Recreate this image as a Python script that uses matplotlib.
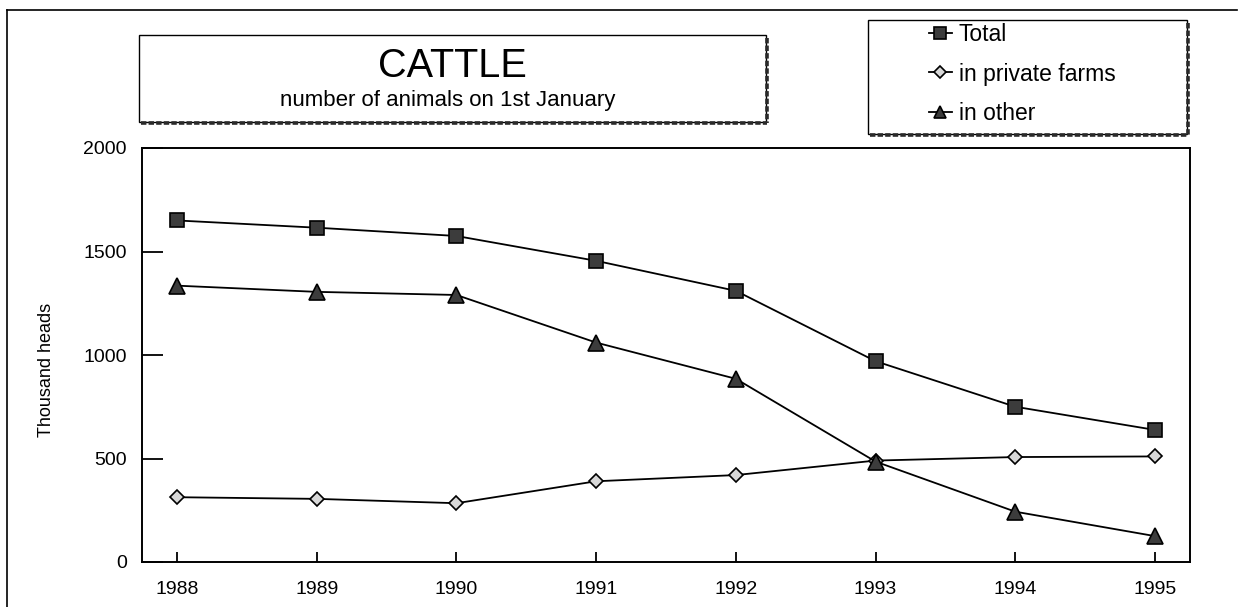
import matplotlib
matplotlib.use("Agg")
import matplotlib.pyplot as plt
from matplotlib.patches import Rectangle
from matplotlib.lines import Line2D

# ---- data ----
years = [1988, 1989, 1990, 1991, 1992, 1993, 1994, 1995]
total = [1650, 1615, 1575, 1455, 1310, 970, 750, 638]
private_farms = [313, 305, 284, 390, 420, 490, 507, 510]
other = [1335, 1305, 1290, 1060, 885, 485, 243, 125]
series_names = ["Total", "in private farms", "in other"]
yticks = [0, 500, 1000, 1500, 2000]
title = "CATTLE"
subtitle = "number of animals on 1st January"
ylabel = "Thousand heads"

W, H = 1258, 607
DPI = 100
plt.rcParams['font.family'] = ['Liberation Sans', 'DejaVu Sans']

fig = plt.figure(figsize=(W / DPI, H / DPI), dpi=DPI)
fig.patch.set_facecolor('white')


def fx(x):
    return x / W


def fy(y):
    return 1 - y / H


# axes: pixel box 142..1190 x, 148..562 y
ax = fig.add_axes([fx(142), fy(562), fx(1190) - fx(142), fy(148) - fy(562)])

styles = [
    dict(marker='s', markersize=10, markerfacecolor='#3c3c3c', markeredgecolor='black'),
    dict(marker='D', markersize=7.5, markerfacecolor='#d8d8d8', markeredgecolor='black'),
    dict(marker='^', markersize=11, markerfacecolor='#3c3c3c', markeredgecolor='black'),
]
lines = []
for vals, name, st in zip([total, private_farms, other], series_names, styles):
    ln, = ax.plot(years, vals, color='black', lw=1.3, label=name,
                  markeredgewidth=1.2, **st)
    lines.append(ln)

ax.set_xlim(1987.75, 1995.25)
ax.set_ylim(0, 2000)
ax.set_xticks(years)
ax.set_yticks(yticks)
ax.tick_params(axis='y', direction='in', length=15, width=1.3, pad=11, labelsize=14)
ax.tick_params(axis='x', direction='in', length=7, width=1.3, pad=14, labelsize=14)
for sp in ax.spines.values():
    sp.set_linewidth(1.4)
ax.set_ylabel(ylabel, fontsize=13)
ax.yaxis.set_label_coords((55 - 142) / 1048, (562 - 370) / 414)


def shadow_box(x0, y0, x1, y1):
    # shadow on right and bottom
    fig.add_artist(Line2D([fx(x0 + 2), fx(x1 + 1)], [fy(y1 + 1), fy(y1 + 1)],
                          color='#2a2a2a', lw=2.6, ls=(0, (1.5, 0.6))))
    fig.add_artist(Line2D([fx(x1 + 1), fx(x1 + 1)], [fy(y0 + 3), fy(y1 + 1)],
                          color='#2a2a2a', lw=2.6, ls=(0, (1.5, 0.6))))
    fig.add_artist(Rectangle((fx(x0), fy(y1)), fx(x1) - fx(x0), fy(y0) - fy(y1),
                             transform=fig.transFigure, facecolor='none',
                             edgecolor='black', lw=1.0))


# outer frame lines (left and top)
fig.add_artist(Line2D([fx(7), fx(7)], [fy(10), fy(607)], color='black', lw=1.2))
fig.add_artist(Line2D([fx(7), fx(1237)], [fy(10), fy(10)], color='black', lw=1.2))

# title box
shadow_box(139, 35, 766, 122)
fig.text(fx(452.5), fy(77), title, ha='center', va='baseline', fontsize=28.5)
fig.text(fx(448), fy(106), subtitle, ha='center', va='baseline', fontsize=16)

# legend box
shadow_box(868, 20, 1187, 134)
fig.legend(handles=lines, labels=series_names, loc='upper left',
           bbox_to_anchor=(fx(929), fy(23)), frameon=False, fontsize=16.5,
           handlelength=1.0, handletextpad=0.3, labelspacing=0.72,
           borderpad=0, borderaxespad=0, markerscale=0.85)

fig.savefig('out.png', dpi=DPI)
